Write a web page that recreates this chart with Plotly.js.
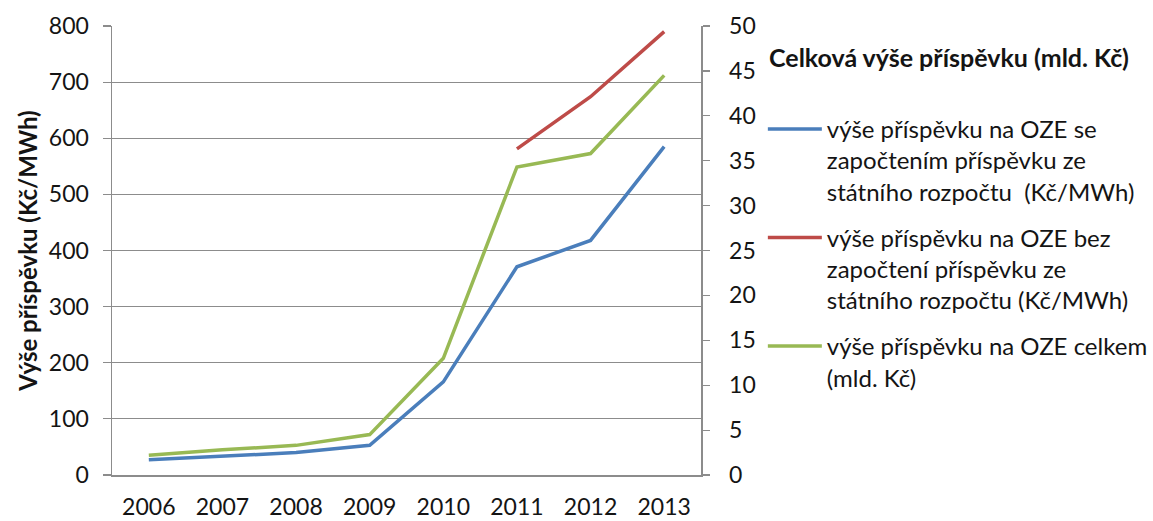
<!DOCTYPE html>
<html>
<head>
<meta charset="utf-8">
<script src="https://cdn.plot.ly/plotly-3.0.1.min.js"></script>
<style>
  html, body { margin: 0; padding: 0; background: #fff; }
  #chart { width: 1153px; height: 521px; }
</style>
</head>
<body>
<div id="chart"></div>
<script>
// Years on the category axis
const years = ['2006', '2007', '2008', '2009', '2010', '2011', '2012', '2013'];

// Contribution per MWh including the state budget share (Kč/MWh)
const withStateBudget = [27, 33, 40, 53, 166, 371, 418, 585];

// Contribution per MWh without the state budget share (Kč/MWh), 2011 onwards
const withoutStateBudget = [null, null, null, null, null, 581, 674, 790];

// Total contribution (bn Kč), right axis
const totalBn = [2.2, 2.8, 3.3, 4.5, 13.0, 34.3, 35.8, 44.5];

// Tick values for both value axes
const leftTicks = [0, 100, 200, 300, 400, 500, 600, 700, 800];
const rightTicks = [0, 5, 10, 15, 20, 25, 30, 35, 40, 45, 50];

const seriesNames = [
  'výše příspěvku na OZE se<br>započtením příspěvku ze<br>státního rozpočtu  (Kč/MWh)',
  'výše příspěvku na OZE bez<br>započtení příspěvku ze<br>státního rozpočtu (Kč/MWh)',
  'výše příspěvku na OZE celkem<br>(mld. Kč)'
];

const FONT = 'Lato, "Open Sans", sans-serif';
const TEXT = '#141414';
const AXIS_GREY = '#8c8c8c';

const traces = [
  {
    x: years, y: withStateBudget, name: seriesNames[0], type: 'scatter', mode: 'lines',
    line: { color: '#4a7ebb', width: 3.5 }, legendgroup: 'a'
  },
  {
    x: years, y: withoutStateBudget, name: seriesNames[1], type: 'scatter', mode: 'lines',
    line: { color: '#be4b48', width: 3.5 }, legendgroup: 'b'
  },
  {
    x: years, y: totalBn, name: seriesNames[2], type: 'scatter', mode: 'lines', yaxis: 'y2',
    line: { color: '#98b954', width: 3.5 }, legendgroup: 'c'
  }
];

const layout = {
  width: 1153, height: 521,
  // fixed plot box; the legend sits in the right margin without widening it
  margin: { l: 112, r: 452, t: 26, b: 46, autoexpand: false },
  paper_bgcolor: '#fff', plot_bgcolor: '#fff',
  font: { family: FONT, size: 23, color: TEXT },
  showlegend: true,
  legend: {
    x: 1.105, xanchor: 'left', y: 0.82, yanchor: 'top',
    font: { family: FONT, size: 24, color: TEXT },
    valign: 'top', tracegroupgap: 12, itemwidth: 54,
    bgcolor: 'rgba(0,0,0,0)'
  },
  xaxis: {
    type: 'category', categoryarray: years, range: [-0.5, 7.5],
    showgrid: false, showline: true, linecolor: AXIS_GREY, linewidth: 1.5,
    ticks: '', tickfont: { family: FONT, size: 23, color: TEXT },
    ticklabelstandoff: 11, fixedrange: true
  },
  yaxis: {
    range: [0, 800], tickvals: leftTicks, ticktext: leftTicks.map(String),
    showgrid: true, gridcolor: AXIS_GREY, gridwidth: 1.2,
    showline: true, linecolor: AXIS_GREY, linewidth: 1.5,
    ticks: 'outside', ticklen: 8, tickcolor: AXIS_GREY, tickwidth: 1.2,
    zeroline: false, ticklabelstandoff: 9,
    tickfont: { family: FONT, size: 23, color: TEXT },
    title: { text: '<b>Výše příspěvku (Kč/MWh)</b>', font: { family: FONT, size: 24, color: TEXT }, standoff: 4 }
  },
  yaxis2: {
    overlaying: 'y', side: 'right', range: [0, 50],
    tickvals: rightTicks, ticktext: rightTicks.map(String),
    showgrid: false, zeroline: false,
    showline: true, linecolor: AXIS_GREY, linewidth: 1.5,
    ticks: 'outside', ticklen: 7, tickcolor: AXIS_GREY, tickwidth: 1.2,
    ticklabelstandoff: 15,
    tickfont: { family: FONT, size: 23, color: TEXT }
  },
  annotations: [
    {
      text: '<b>Celková výše příspěvku (mld. Kč)</b>',
      xref: 'paper', yref: 'paper', x: 1.112, y: 0.93, xanchor: 'left', yanchor: 'middle',
      showarrow: false, font: { family: FONT, size: 25, color: TEXT }
    }
  ]
};

Plotly.newPlot('chart', traces, layout, { displayModeBar: false, staticPlot: true });
</script>
</body>
</html>
